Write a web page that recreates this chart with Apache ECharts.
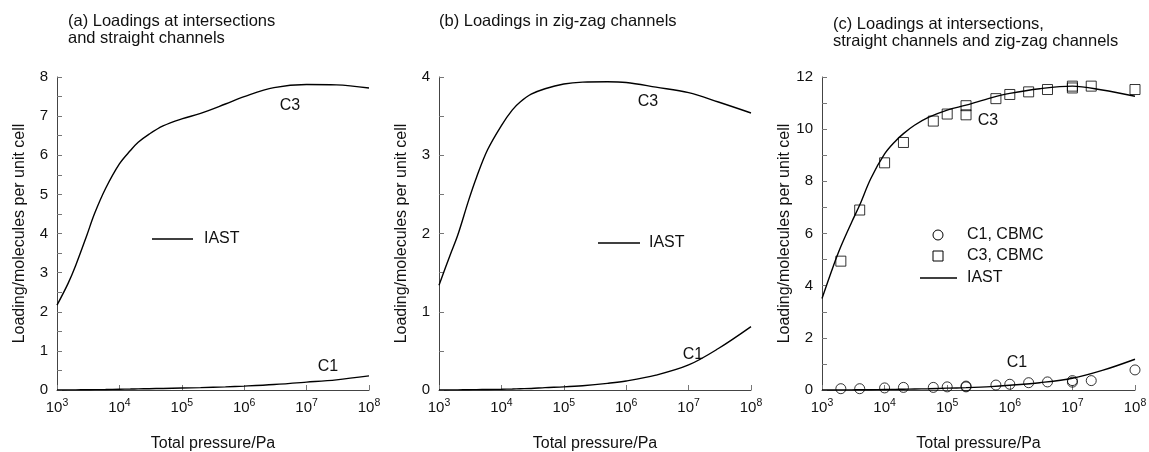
<!DOCTYPE html>
<html>
<head>
<meta charset="utf-8">
<script src="https://cdn.jsdelivr.net/npm/echarts@6/dist/echarts.min.js"></script>
<style>
  html, body { margin: 0; padding: 0; background: #fff; }
  #chart { width: 1149px; height: 452px; }
</style>
</head>
<body>
<div id="chart"></div>
<script>
// Pressure grid (Pa) for the IAST curves
const pressureGrid = [1e3, 1.5e3, 2e3, 3e3, 4e3, 6e3, 1e4, 1.5e4, 2e4, 3e4, 5e4,
                      1e5, 2e5, 5e5, 1e6, 3e6, 1e7, 3e7, 1e8];

// (a) intersections + straight channels
const iastA_C3 = [2.17, 2.72, 3.19, 3.95, 4.51, 5.15, 5.78, 6.12, 6.33, 6.54, 6.75,
                  6.93, 7.07, 7.31, 7.5, 7.73, 7.81, 7.8, 7.72];
const iastA_C1 = [0.0, 0.002, 0.004, 0.007, 0.009, 0.013, 0.02, 0.024, 0.028, 0.033, 0.04,
                  0.05, 0.06, 0.08, 0.1, 0.14, 0.2, 0.26, 0.36];

// (b) zig-zag channels
const iastB_C3 = [1.34, 1.72, 1.98, 2.43, 2.72, 3.07, 3.38, 3.58, 3.68, 3.78, 3.85,
                  3.91, 3.935, 3.94, 3.93, 3.87, 3.8, 3.68, 3.54];
const iastB_C1 = [0.0, 0.001, 0.002, 0.004, 0.005, 0.007, 0.01, 0.013, 0.016, 0.02, 0.03,
                  0.04, 0.055, 0.085, 0.115, 0.19, 0.32, 0.53, 0.81];

// (c) total loading
const iastC_C3 = [3.51, 4.72, 5.5, 6.45, 7.09, 8.1, 9.05, 9.55, 9.83, 10.15, 10.45,
                  10.73, 10.92, 11.2, 11.37, 11.55, 11.65, 11.5, 11.26];
const iastC_C1 = [0.0, 0.002, 0.004, 0.006, 0.008, 0.012, 0.02, 0.025, 0.03, 0.04, 0.05,
                  0.07, 0.09, 0.13, 0.18, 0.28, 0.45, 0.75, 1.18];

// CBMC simulation points for panel (c)
const cbmcPressure = [2e3, 4e3, 1e4, 2e4, 6e4, 1e5, 2e5, 2e5, 6e5, 1e6, 2e6, 4e6, 1e7, 1e7, 2e7, 1e8];
const cbmcC3 = [4.94, 6.9, 8.71, 9.49, 10.31, 10.58, 10.55, 10.9, 11.17, 11.33, 11.43, 11.52, 11.58, 11.65, 11.65, 11.52];
const cbmcC1 = [0.05, 0.05, 0.08, 0.1, 0.1, 0.12, 0.12, 0.15, 0.19, 0.22, 0.28, 0.31, 0.3, 0.36, 0.36, 0.77];

const panelTitles = [
  '(a) Loadings at intersections\nand straight channels',
  '(b) Loadings in zig-zag channels',
  '(c) Loadings at intersections,\nstraight channels and zig-zag channels'
];
const yMax = [8, 4, 12];
const yInterval = [1, 1, 2];
const xAxisName = 'Total pressure/Pa';
const yAxisName = 'Loading/molecules per unit cell';

const FONT = 'Liberation Sans, Arial, Helvetica, sans-serif';
const INK = '#111';

const grids = [
  { left: 57, right: 780, top: 77, bottom: 62, outerBoundsMode: 'none' },
  { left: 439, right: 398, top: 77, bottom: 62, outerBoundsMode: 'none' },
  { left: 822, right: 14, top: 77, bottom: 62, outerBoundsMode: 'none' }
];

function pairs(xs, ys) { return xs.map((x, i) => [x, ys[i]]); }

const supFmt = v => {
  const e = Math.round(Math.log10(v));
  return '{b|10}{s|' + e + '}';
};

const xAxes = grids.map((g, i) => ({
  gridIndex: i,
  type: 'log',
  logBase: 10,
  min: 1e3,
  max: 1e8,
  name: xAxisName,
  nameLocation: 'middle',
  nameGap: 46,
  nameTextStyle: { fontFamily: FONT, fontSize: 16, color: INK },
  axisLine: { lineStyle: { color: '#444', width: 1 } },
  axisTick: { inside: true, length: 5, lineStyle: { color: '#777' } },
  minorTick: { show: false },
  splitLine: { show: false },
  axisLabel: {
    formatter: supFmt,
    margin: 8,
    rich: {
      b: { fontFamily: FONT, fontSize: 15, color: INK },
      s: { fontFamily: FONT, fontSize: 10.5, color: INK, padding: [0, 0, 8, 0] }
    }
  }
}));

const yAxes = grids.map((g, i) => ({
  gridIndex: i,
  type: 'value',
  min: 0,
  max: yMax[i],
  interval: yInterval[i],
  name: yAxisName,
  nameLocation: 'middle',
  nameGap: i === 2 ? 27 : 29,
  nameTextStyle: { fontFamily: FONT, fontSize: 16, color: INK },
  axisLine: { show: true, lineStyle: { color: '#444', width: 1 } },
  axisTick: { show: true, inside: true, length: 5, lineStyle: { color: '#777' } },
  minorTick: { show: true, splitNumber: 2, length: 5, lineStyle: { color: '#777' } },
  splitLine: { show: false },
  axisLabel: { fontFamily: FONT, fontSize: 15, color: INK, margin: 9 }
}));

const lineStyle = { color: '#000', width: 1.4 };
function curve(idx, xs, ys, name) {
  return {
    name, type: 'line', xAxisIndex: idx, yAxisIndex: idx,
    data: pairs(xs, ys), smooth: 0.35, showSymbol: false, symbol: 'none',
    lineStyle, silent: true, z: 3
  };
}
function markers(idx, xs, ys, name, symbol) {
  return {
    name, type: 'scatter', xAxisIndex: idx, yAxisIndex: idx,
    data: pairs(xs, ys), symbol, symbolSize: 10,
    itemStyle: { color: 'rgba(255,255,255,0)', borderColor: '#000', borderWidth: 1 },
    silent: true, z: 4
  };
}

const series = [
  curve(0, pressureGrid, iastA_C3, 'IAST'),
  curve(0, pressureGrid, iastA_C1, 'IAST'),
  curve(1, pressureGrid, iastB_C3, 'IAST'),
  curve(1, pressureGrid, iastB_C1, 'IAST'),
  curve(2, pressureGrid, iastC_C3, 'IAST'),
  curve(2, pressureGrid, iastC_C1, 'IAST'),
  markers(2, cbmcPressure, cbmcC1, 'C1, CBMC', 'circle'),
  markers(2, cbmcPressure, cbmcC3, 'C3, CBMC', 'rect')
];

// text placed by its anchor point (align: left | center), vertically centred
function txt(x, y, s, align) {
  return {
    type: 'text', x, y,
    style: { text: s, font: '16px ' + FONT, fill: INK, align: align || 'left', verticalAlign: 'middle' }
  };
}
function seg(x1, x2, y) {
  return { type: 'line', shape: { x1, y1: y, x2, y2: y }, style: { stroke: '#000', lineWidth: 1.4 } };
}
function title(x, y, s) {
  return {
    type: 'text', x, y,
    style: { text: s, font: '16.5px ' + FONT, fill: INK, lineHeight: 17, verticalAlign: 'top' }
  };
}

const graphic = [
  title(68, 13, panelTitles[0]),
  title(439, 13, panelTitles[1]),
  title(833, 15.5, panelTitles[2]),
  // curve labels
  txt(290, 106, 'C3', 'center'), txt(328, 367, 'C1', 'center'),
  txt(648, 102, 'C3', 'center'), txt(693, 355, 'C1', 'center'),
  txt(988, 121, 'C3', 'center'), txt(1017, 363, 'C1', 'center'),
  // key, panel (a)
  seg(152, 193, 239), txt(204, 239, 'IAST'),
  // key, panel (b)
  seg(598, 640, 243), txt(649, 243, 'IAST'),
  // key, panel (c)
  { type: 'circle', shape: { cx: 938, cy: 235, r: 5 }, style: { fill: 'none', stroke: '#000', lineWidth: 1 } },
  { type: 'rect', shape: { x: 933, y: 251, width: 10, height: 10 }, style: { fill: 'none', stroke: '#000', lineWidth: 1 } },
  seg(920, 957, 278),
  txt(967, 235, 'C1, CBMC'), txt(967, 256, 'C3, CBMC'), txt(967, 278, 'IAST')
];

const chart = echarts.init(document.getElementById('chart'), null, { renderer: 'canvas' });
chart.setOption({
  backgroundColor: '#fff',
  animation: false,
  grid: grids,
  xAxis: xAxes,
  yAxis: yAxes,
  series,
  graphic
});
</script>
</body>
</html>
